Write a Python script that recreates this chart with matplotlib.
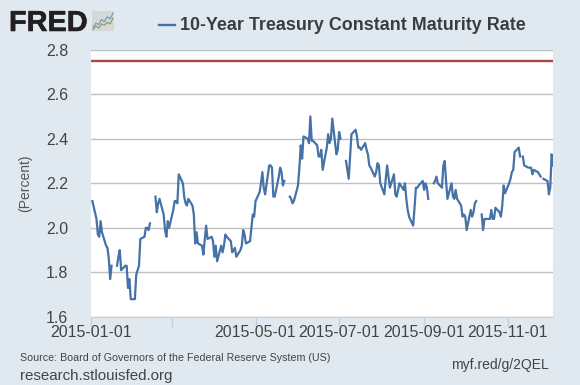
import matplotlib
matplotlib.use('Agg')
import matplotlib.pyplot as plt
import matplotlib.patheffects as pe
import pandas as pd

plt.rcParams['font.family'] = ['Liberation Sans', 'DejaVu Sans']

nan = float('nan')
# one value per business day, from 2015-01-01
jan = [nan, 2.12, 2.04, 1.97, 1.96, 2.03, 1.98, 1.92, 1.91, 1.86, 1.77, 1.83, nan, 1.83, 1.87, 1.90, 1.81, 1.83, 1.83, 1.73, 1.77, 1.68]
feb = [1.68, 1.79, 1.81, 1.83, 1.95, 1.96, 2.00, 2.00, 1.99, 2.02, nan, 2.14, 2.07, 2.11, 2.13, 2.06, 1.99, 1.96, 2.03, 2.00]
mar = [2.08, 2.12, 2.12, 2.11, 2.24, 2.20, 2.14, 2.11, 2.10, 2.13, 2.10, 2.06, 1.93, 1.98, 1.93, 1.92, 1.88, 1.95, 2.01, 1.95, 1.96, 1.94]
apr = [1.87, 1.92, 1.85, 1.92, 1.89, 1.92, 1.97, 1.96, 1.94, 1.89, 1.90, 1.91, 1.87, 1.90, 1.92, 1.99, 1.97, 1.93, 1.94, 2.00, 2.06, 2.05]
may = [2.12, 2.16, 2.20, 2.25, 2.18, 2.15, 2.28, 2.28, 2.27, 2.14, 2.14, 2.23, 2.27, 2.25, 2.19, 2.21, nan, 2.14, 2.13, 2.11, 2.12]
jun = [2.19, 2.27, 2.37, 2.31, 2.41, 2.40, 2.38, 2.50, 2.39, 2.39, 2.37, 2.32, 2.32, 2.35, 2.26, 2.36, 2.42, 2.38, 2.40, 2.49, 2.33, 2.35]
jul = [2.43, 2.40, nan, 2.30, 2.26, 2.22, 2.32, 2.42, 2.44, 2.41, 2.36, 2.36, 2.35, 2.38, 2.35, 2.33, 2.28, 2.27, 2.23, 2.25, 2.29, 2.28, 2.20]
aug = [2.15, 2.22, 2.28, 2.23, 2.18, 2.24, 2.15, 2.14, 2.17, 2.20, 2.17, 2.20, 2.13, 2.08, 2.05, 2.01, 2.09, 2.18, 2.18, 2.19, 2.21]
sep = [2.17, 2.20, 2.18, 2.13, nan, 2.20, 2.21, 2.23, 2.20, 2.18, 2.28, 2.30, 2.21, 2.13, 2.20, 2.14, 2.13, 2.17, 2.13, 2.10, 2.05, 2.06]
oct_ = [2.05, 1.99, 2.08, 2.05, 2.07, 2.11, 2.12, nan, 2.06, 1.99, 2.04, 2.04, 2.04, 2.08, 2.04, 2.04, 2.09, 2.07, 2.05, 2.10, 2.19, 2.155]
nov = [2.20, 2.22, 2.25, 2.26, 2.34, 2.36, 2.32, nan, 2.32, 2.28, 2.27, 2.27, 2.27, 2.24, 2.26, 2.25, 2.24, 2.23, nan, 2.22, 2.21]
dec = [2.15, 2.18, 2.33, 2.28]
rate = jan + feb + mar + apr + may + jun + jul + aug + sep + oct_ + nov + dec
dates = pd.bdate_range('2015-01-01', periods=len(rate))

refline = 2.75
yticks = [1.6, 1.8, 2.0, 2.2, 2.4, 2.6, 2.8]
xticks = ['2015-01-01', '2015-03-01', '2015-05-01', '2015-07-01', '2015-09-01', '2015-11-01']
xlabels = ['2015-01-01', '', '2015-05-01', '2015-07-01', '2015-09-01', '2015-11-01']
icon_blue = [0.5, 1.1, 0.9, 1.6, 1.3, 2.0, 1.7, 2.5]
icon_green = [0.2, 0.7, 0.4, 1.0, 0.8, 1.2, 1.0, 1.8]

BG = '#e1e9f0'
W, H = 580, 385

fig = plt.figure(figsize=(5.8, 3.85), dpi=100, facecolor=BG)
ax = fig.add_axes([91 / W, 1 - 317 / H, (553 - 91) / W, (317 - 49.5) / H])

ax.plot(dates, rate, color='#4572a7', linewidth=1.6, zorder=3)
ax.axhline(refline, color='#aa4643', linewidth=1.7, zorder=3)

ax.set_ylim(1.6, 2.8)
ax.set_xlim(pd.Timestamp('2015-01-01'), pd.Timestamp('2015-12-04'))
ax.set_yticks(yticks)
ax.set_xticks(pd.to_datetime(xticks))
ax.set_xticklabels(xlabels)
ax.grid(axis='y', color='#c0c0c0', linewidth=1)
ax.set_axisbelow(True)
for s in ['top', 'right', 'left']:
    ax.spines[s].set_visible(False)
ax.spines['bottom'].set_color('#c0d0e0')
ax.tick_params(axis='x', color='#c0d0e0', length=7, width=1, pad=-1, labelsize=11.5, labelcolor='#444444')
ax.tick_params(axis='y', length=0, pad=16.5, labelsize=11.5, labelcolor='#444444')
ax.set_ylabel('(Percent)', fontsize=10, color='#555555', labelpad=10)

# logo + legend line across the top
fig.text(9 / W, 1 - 31 / H, 'FRED', fontsize=20.8, fontweight='bold', color='#231f20', va='baseline',
         path_effects=[pe.withStroke(linewidth=0.4, foreground='#231f20')])
icon = fig.add_axes([92 / W, 1 - 31 / H, 22 / W, 20 / H], facecolor='#d4d8d8')
icon.plot(icon_blue, color='#6f96bd', linewidth=0.8)
icon.plot(icon_green, color='#7fa04f', linewidth=0.8)
icon.set_ylim(0, 2.8)
icon.set_xticks([])
icon.set_yticks([])
for s in icon.spines.values():
    s.set_visible(False)

fig.add_artist(plt.Line2D([159 / W, 175 / W], [1 - 25 / H, 1 - 25 / H], color='#4572a7', linewidth=1.7))
fig.text(180 / W, 1 - 29.5 / H, '10-Year Treasury Constant Maturity Rate', fontsize=12.9,
         fontweight='bold', color='#3d3d3d', va='baseline')

fig.text(20 / W, 1 - 361 / H, 'Source: Board of Governors of the Federal Reserve System (US)',
         fontsize=7.63, color='#444444', va='baseline')
fig.text(20 / W, 1 - 380 / H, 'research.stlouisfed.org', fontsize=10.9, color='#444444', va='baseline')
fig.text(549 / W, 1 - 369 / H, 'myf.red/g/2QEL', fontsize=10, color='#444444', va='baseline', ha='right')

fig.savefig('out.png', dpi=100, facecolor=BG)
